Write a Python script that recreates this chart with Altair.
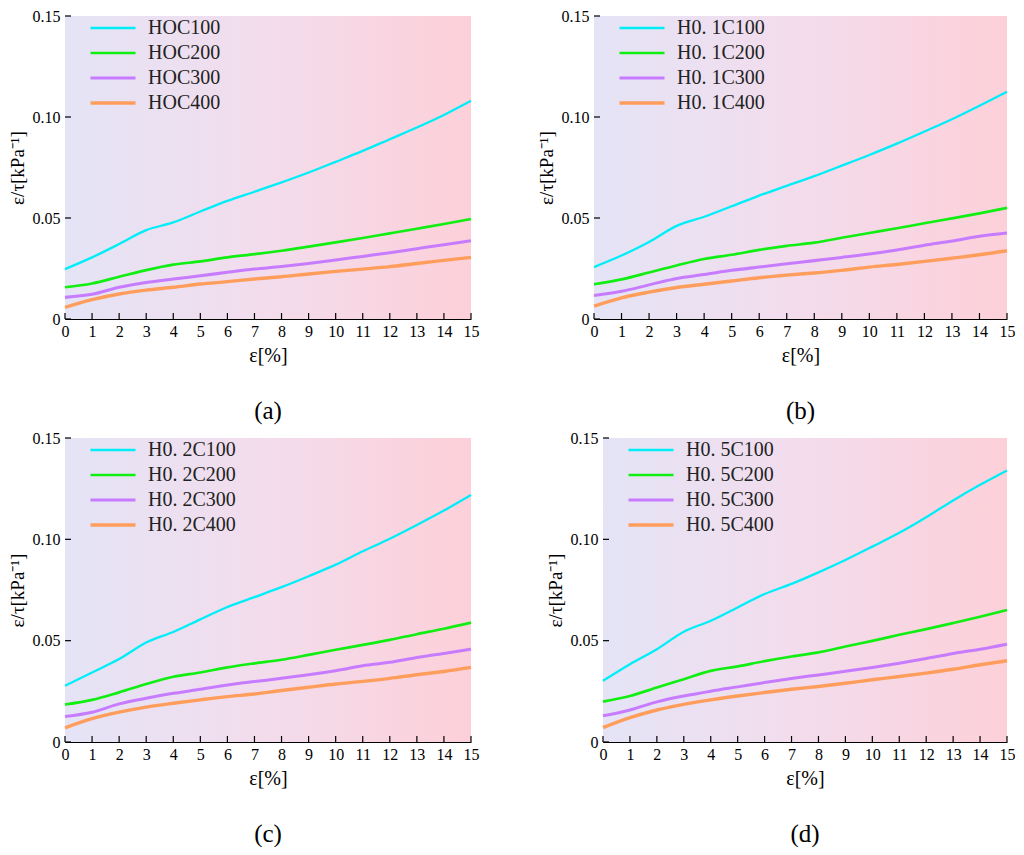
import altair as alt
import pandas as pd

# ---------------- data ----------------
strain = [0, 1, 2, 3, 4, 5, 6, 7, 8, 9, 10, 11, 12, 13, 14, 15]

a_labels = ["HOC100", "HOC200", "HOC300", "HOC400"]
a_c100 = [0.0247, 0.0305, 0.0371, 0.0440, 0.0478, 0.0532, 0.0585, 0.0630, 0.0676, 0.0725, 0.0778, 0.0832, 0.0890, 0.0948, 0.1010, 0.1080]
a_c200 = [0.0157, 0.0176, 0.0209, 0.0242, 0.0269, 0.0285, 0.0305, 0.0321, 0.0338, 0.0358, 0.0379, 0.0401, 0.0424, 0.0447, 0.0470, 0.0495]
a_c300 = [0.0107, 0.0122, 0.0157, 0.0181, 0.0198, 0.0214, 0.0231, 0.0247, 0.0260, 0.0275, 0.0292, 0.0310, 0.0328, 0.0348, 0.0368, 0.0387]
a_c400 = [0.0058, 0.0096, 0.0124, 0.0143, 0.0157, 0.0173, 0.0185, 0.0198, 0.0209, 0.0223, 0.0236, 0.0247, 0.0259, 0.0275, 0.0290, 0.0305]

b_labels = ["H0. 1C100", "H0. 1C200", "H0. 1C300", "H0. 1C400"]
b_c100 = [0.0257, 0.0314, 0.0381, 0.0461, 0.0506, 0.0558, 0.0611, 0.0659, 0.0707, 0.0759, 0.0812, 0.0868, 0.0928, 0.0989, 0.1056, 0.1125]
b_c200 = [0.0172, 0.0196, 0.0230, 0.0265, 0.0297, 0.0318, 0.0342, 0.0362, 0.0378, 0.0402, 0.0426, 0.0449, 0.0474, 0.0498, 0.0523, 0.0550]
b_c300 = [0.0116, 0.0137, 0.0169, 0.0201, 0.0220, 0.0241, 0.0257, 0.0273, 0.0289, 0.0305, 0.0322, 0.0342, 0.0365, 0.0386, 0.0410, 0.0426]
b_c400 = [0.0064, 0.0105, 0.0133, 0.0156, 0.0172, 0.0188, 0.0204, 0.0217, 0.0228, 0.0241, 0.0257, 0.0270, 0.0285, 0.0301, 0.0318, 0.0338]

c_labels = ["H0. 2C100", "H0. 2C200", "H0. 2C300", "H0. 2C400"]
c_c100 = [0.0278, 0.0343, 0.0409, 0.0491, 0.0543, 0.0605, 0.0666, 0.0715, 0.0764, 0.0818, 0.0875, 0.0941, 0.1003, 0.1071, 0.1142, 0.1219]
c_c200 = [0.0185, 0.0208, 0.0245, 0.0286, 0.0322, 0.0343, 0.0368, 0.0388, 0.0406, 0.0430, 0.0455, 0.0479, 0.0504, 0.0532, 0.0559, 0.0589]
c_c300 = [0.0126, 0.0147, 0.0188, 0.0216, 0.0240, 0.0260, 0.0281, 0.0298, 0.0314, 0.0332, 0.0352, 0.0376, 0.0393, 0.0417, 0.0437, 0.0458]
c_c400 = [0.0070, 0.0115, 0.0147, 0.0172, 0.0191, 0.0208, 0.0224, 0.0237, 0.0254, 0.0270, 0.0286, 0.0299, 0.0314, 0.0332, 0.0348, 0.0368]

d_labels = ["H0. 5C100", "H0. 5C200", "H0. 5C300", "H0. 5C400"]
d_c100 = [0.0302, 0.0384, 0.0458, 0.0544, 0.0598, 0.0664, 0.0730, 0.0780, 0.0837, 0.0898, 0.0964, 0.1032, 0.1109, 0.1192, 0.1269, 0.1340]
d_c200 = [0.0199, 0.0227, 0.0269, 0.0310, 0.0351, 0.0373, 0.0399, 0.0422, 0.0442, 0.0471, 0.0499, 0.0529, 0.0557, 0.0587, 0.0618, 0.0651]
d_c300 = [0.0129, 0.0158, 0.0198, 0.0227, 0.0251, 0.0272, 0.0293, 0.0313, 0.0331, 0.0349, 0.0368, 0.0389, 0.0412, 0.0437, 0.0458, 0.0483]
d_c400 = [0.0071, 0.0120, 0.0158, 0.0186, 0.0208, 0.0227, 0.0244, 0.0260, 0.0274, 0.0290, 0.0307, 0.0323, 0.0340, 0.0359, 0.0381, 0.0401]

x_ticks = list(range(0, 16))
y_ticks = [0, 0.05, 0.10, 0.15]
captions = ["(a)", "(b)", "(c)", "(d)"]

line_colors = ["#00eef8", "#11ee11", "#c77cff", "#ff9e5c"]
line_widths = [2.3, 3.4, 2.3, 2.3]
bg_stops = ["#e4e4f6", "#f3dcec", "#fdd0d9"]

SERIF = "Liberation Serif"


def make_xaxis():
    return alt.Axis(title="ε[%]", values=x_ticks, format="d", ticks=False,
                    labelOverlap=False, labelFlush=False, labelFont=SERIF, labelFontSize=16,
                    labelPadding=4, titleFont=SERIF, titleFontSize=20,
                    titlePadding=6, titleFontWeight="normal",
                    labelColor="black", titleColor="black",
                    domainColor="black", grid=False)


def make_yaxis():
    return alt.Axis(title="ε/τ[kPa⁻¹]", values=y_ticks, ticks=False,
                    labelExpr="datum.value == 0 ? '0' : format(datum.value, '.2f')",
                    labelOverlap=False, labelFlush=False, labelFont=SERIF, labelFontSize=16,
                    labelPadding=5, titleFont=SERIF, titleFontSize=19,
                    titlePadding=5, titleFontWeight="normal",
                    labelColor="black", titleColor="black",
                    domainColor="black", grid=False)


def panel(labels, series, caption, pw, ph):
    rows = []
    for lab, vals in zip(labels, series):
        for xv, yv in zip(strain, vals):
            rows.append({"strain": xv, "ratio": yv, "series": lab})
    df = pd.DataFrame(rows)

    xscale = alt.Scale(domain=[0, 15], nice=False, zero=False)
    yscale = alt.Scale(domain=[0, 0.15], nice=False)

    bg = alt.Chart(alt.Data(values=[{"k": 1}])).mark_rect(
        fill=alt.LinearGradient(
            gradient="linear",
            stops=[alt.GradientStop(color=bg_stops[0], offset=0),
                   alt.GradientStop(color=bg_stops[1], offset=0.5),
                   alt.GradientStop(color=bg_stops[2], offset=1)],
            x1=0, x2=1, y1=0, y2=0),
    ).encode(
        x=alt.XDatum(0, scale=xscale, axis=make_xaxis()),
        x2=alt.datum(15),
        y=alt.YDatum(0, scale=yscale, axis=make_yaxis()),
        y2=alt.datum(0.15),
    )

    # inward tick marks
    xt = alt.Chart(pd.DataFrame({"t": x_ticks})).mark_rule(color="black", strokeWidth=1.2).encode(
        x=alt.X("t:Q", scale=xscale, axis=make_xaxis()),
        y=alt.value(ph - 6), y2=alt.value(ph),
    )
    yt = alt.Chart(pd.DataFrame({"t": y_ticks})).mark_rule(color="black", strokeWidth=1.2).encode(
        y=alt.Y("t:Q", scale=yscale, axis=make_yaxis()),
        x=alt.value(0), x2=alt.value(6),
    )

    lines = alt.Chart(df).mark_line(interpolate="monotone").encode(
        x=alt.X("strain:Q", scale=xscale, axis=make_xaxis()),
        y=alt.Y("ratio:Q", scale=yscale, axis=make_yaxis()),
        color=alt.Color("series:N",
                        scale=alt.Scale(domain=labels, range=line_colors),
                        legend=alt.Legend(title=None, orient="none", legendX=38, legendY=2,
                                          symbolType="M-3,0H3", symbolSize=225,
                                          symbolStrokeWidth=3, labelFont=SERIF,
                                          labelFontSize=20, labelColor="#222222",
                                          labelOffset=25, rowPadding=5, padding=0)),
        strokeWidth=alt.StrokeWidth("series:N",
                                    scale=alt.Scale(domain=labels, range=line_widths),
                                    legend=None),
        order=alt.Order("strain:Q"),
    )

    return alt.layer(bg, lines, xt, yt).properties(
        width=pw, height=ph,
        title=alt.TitleParams(caption, orient="bottom", anchor="middle", frame="group",
                              fontSize=25, font=SERIF, fontWeight="normal", offset=34,
                              color="black"),
    )


pa = panel(a_labels, [a_c100, a_c200, a_c300, a_c400], captions[0], 406, 303)
pb = panel(b_labels, [b_c100, b_c200, b_c300, b_c400], captions[1], 413, 303)
pc = panel(c_labels, [c_c100, c_c200, c_c300, c_c400], captions[2], 406, 304)
pd_ = panel(d_labels, [d_c100, d_c200, d_c300, d_c400], captions[3], 404, 304)

row1 = alt.hconcat(pa, pb, spacing=58).resolve_scale(color="independent", strokeWidth="independent").resolve_legend(color="independent")
row2 = alt.hconcat(pc, pd_, spacing=67).resolve_scale(color="independent", strokeWidth="independent").resolve_legend(color="independent")

chart = alt.vconcat(row1, row2, spacing=6).resolve_scale(
    color="independent", strokeWidth="independent"
).resolve_legend(color="independent").configure(
    padding=0, background="white", font=SERIF,
    style={"guide-label": {"font": SERIF}, "guide-title": {"font": SERIF}},
).configure_view(stroke=None).configure_axis(
    labelFont=SERIF, titleFont=SERIF
)

chart.save("out.html", embed_options={"renderer": "svg", "actions": False})
